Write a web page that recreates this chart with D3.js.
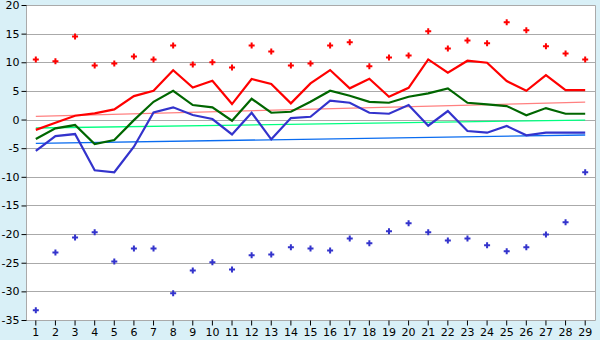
<!DOCTYPE html>
<html><head><meta charset="utf-8">
<script src="https://cdn.jsdelivr.net/npm/d3@7/dist/d3.min.js"></script>
<style>html,body{margin:0;padding:0;background:#d9f0f7;}svg{display:block;}</style>
</head><body><svg id="c" width="600" height="340"></svg>
<script>
const days = d3.range(1, 30).map(String);
const yTicks = [20, 15, 10, 5, 0, -5, -10, -15, -20, -25, -30, -35];
const maxMarkers = [10.5,10.2,14.5,9.45,9.8,11.0,10.5,12.95,9.6,10.0,9.1,12.95,11.9,9.45,9.8,12.95,13.5,9.3,10.85,11.2,15.4,12.4,13.8,13.3,17.0,15.6,12.8,11.55,10.5];
const redLine = [-1.8,-0.55,0.67,1.08,1.78,4.1,5.03,8.6,5.6,6.78,2.7,7.07,6.2,2.83,6.3,8.64,5.45,7.12,3.98,5.55,10.5,8.17,10.27,9.92,6.72,5.03,7.77,5.15,5.15];
const greenLine = [-3.4,-1.54,-0.96,-4.28,-3.58,-0.1,3.1,5.03,2.53,2.13,-0.2,3.63,1.19,1.36,3.1,5.03,4.16,3.1,2.93,3.98,4.57,5.45,2.93,2.65,2.36,0.73,2.0,1.01,1.01];
const blueLine = [-5.45,-2.88,-2.53,-8.85,-9.2,-4.75,1.25,2.13,0.79,0.09,-2.6,1.19,-3.46,0.26,0.49,3.28,2.93,1.19,1.01,2.53,-1.08,1.48,-2.0,-2.3,-1.13,-2.76,-2.3,-2.3,-2.3];
const minMarkers = [-33.3,-23.2,-20.6,-19.7,-24.8,-22.5,-22.5,-30.35,-26.35,-24.9,-26.2,-23.7,-23.55,-22.3,-22.5,-22.85,-20.75,-21.6,-19.5,-18.1,-19.7,-21.1,-20.75,-21.97,-23.0,-22.3,-20.05,-17.95,-9.2];
const trendRed = [0.55, 3.05];
const trendGreen = [-1.48, -0.09];
const trendBlue = [-4.16, -2.7];

const svg = d3.select("#c");
const L = 26, R = 595, T = 5, B = 320;
const x = d3.scaleBand().domain(days).range([L, R]);
const y = d3.scaleLinear().domain([-35, 20]).range([B, T]);
const cx = d => x(d) + x.bandwidth() / 2;

svg.append("rect").attr("x", L).attr("y", T).attr("width", R - L).attr("height", B - T).attr("fill", "#fff");

svg.append("g").selectAll("line").data(yTicks).join("line")
  .attr("x1", L).attr("x2", R).attr("y1", d => Math.round(y(d)) + 0.5).attr("y2", d => Math.round(y(d)) + 0.5)
  .attr("stroke", "#aaaaaa").attr("stroke-width", 1);
svg.append("path").attr("d", `M${L+0.5},${B+0.5}V${T+0.5}H${R+0.5}V${B+0.5}H${L+0.5}`)
  .attr("fill", "none").attr("stroke", "#aaaaaa");

const font = "DejaVu Sans, Verdana, sans-serif";
const yAxis = svg.append("g").attr("transform", `translate(${L+0.5},0)`)
  .call(d3.axisLeft(y).tickValues(yTicks).tickSize(5).tickPadding(2).tickFormat(d => String(d)));
yAxis.select(".domain").remove();
yAxis.selectAll(".tick line").attr("stroke", "#000");
yAxis.selectAll("text").attr("font-family", font).attr("font-size", 11).attr("fill", "#000");

const xAxis = svg.append("g").attr("transform", `translate(0,${B+0.5})`)
  .call(d3.axisBottom(x).tickSize(5).tickPadding(3));
xAxis.select(".domain").remove();
xAxis.selectAll(".tick line").attr("stroke", "#000");
xAxis.selectAll("text").attr("font-family", font).attr("font-size", 11).attr("fill", "#000");

const first = days[0], last = days[days.length - 1];
[[trendRed, "#ff8080"], [trendGreen, "#00ff80"], [trendBlue, "#0a6cf0"]].forEach(([t, c]) => {
  svg.append("line").attr("x1", cx(first)).attr("x2", cx(last))
    .attr("y1", y(t[0])).attr("y2", y(t[1])).attr("stroke", c).attr("stroke-width", 1.3);
});

const line = d3.line().x((d, i) => cx(days[i])).y(d => y(d));
[[blueLine, "#3333cc"], [greenLine, "#006600"], [redLine, "#ff0000"]].forEach(([s, c]) => {
  svg.append("path").datum(s).attr("d", line).attr("fill", "none").attr("stroke", c).attr("stroke-width", 2.2);
});

const sym = d3.symbol().type(d3.symbolCross).size(20);
svg.append("g").selectAll("path").data(maxMarkers).join("path")
  .attr("transform", (d, i) => `translate(${cx(days[i])},${y(d)})`).attr("d", sym).attr("fill", "#ff0000");
svg.append("g").selectAll("path").data(minMarkers).join("path")
  .attr("transform", (d, i) => `translate(${cx(days[i])},${y(d)})`).attr("d", sym).attr("fill", "#3333cc");
</script></body></html>
